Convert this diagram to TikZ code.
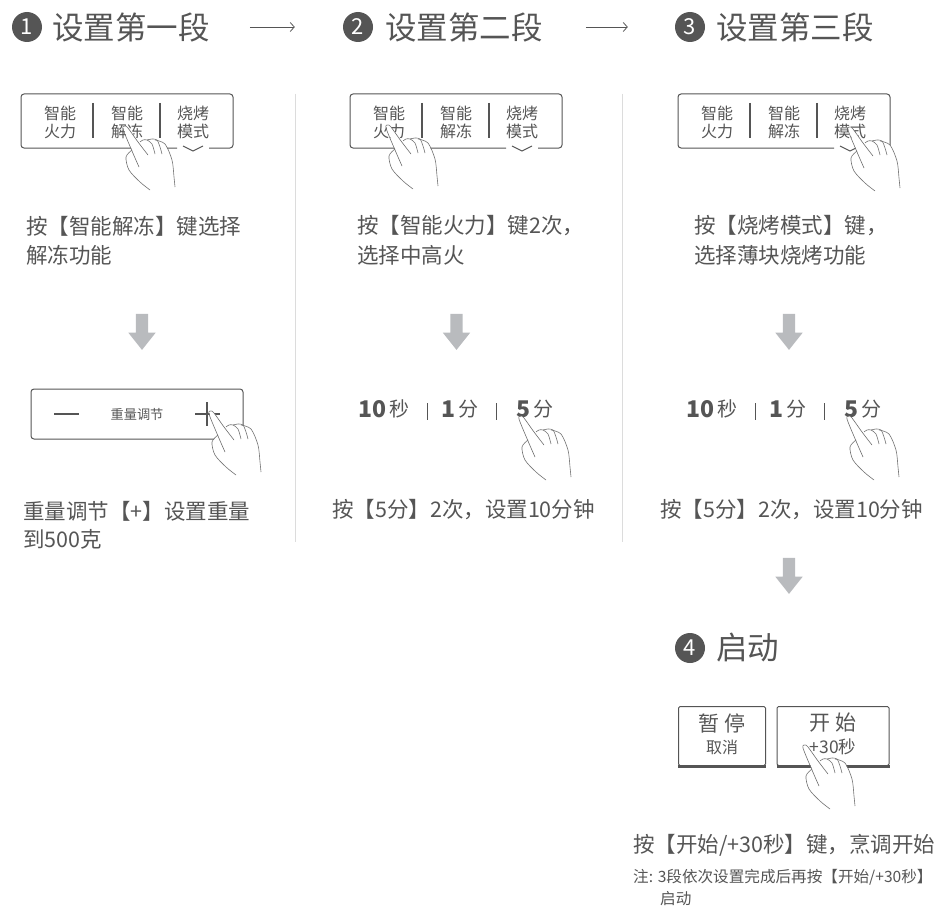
\documentclass[tikz,border=0pt]{standalone}
\usepackage{fontspec}
\setmainfont{Noto Sans CJK SC}
\usepackage{tikz}
\usetikzlibrary{shapes,arrows.meta}
\definecolor{inkgray}{HTML}{555555}
\definecolor{rulegray}{HTML}{DCDCDC}
\definecolor{arrowgray}{HTML}{B9BBBE}
\newcommand{\px}[1] {\fontsize{#1}{#1}\selectfont}
\newcommand{\numnode}[3] {\node at (#1) (#2) [circle, fill=inkgray, text=white, minimum size=30pt, inner sep=0pt, font=\px{22}] {#3};}
\newcommand{\titlenode}[3] {\node at (#1) (#2) [anchor=west, inner sep=0pt, text=inkgray, font=\px{31.5}] {#3};}
\newcommand{\captionnode}[3] {\node at (#1) (#2) [anchor=west, inner sep=0pt, text=inkgray, font=\px{21.5}] {#3};}
\newcommand{\notenode}[3] {\node at (#1) (#2) [anchor=west, inner sep=0pt, text=inkgray, font=\px{15.6}] {#3};}
\newcommand{\keynode}[3] {\node at (#1) (#2) [align=center, inner sep=0pt, text=inkgray, font=\px{16}] {#3};}
\newcommand{\timenode}[3] {\node at (#1) (#2) [anchor=west, inner sep=0pt, text=inkgray, font=\px{20}] {#3};}
\newcommand{\downarrownode}[2] {\node at (#1) (#2) [single arrow, fill=arrowgray, shape border rotate=270, minimum height=36pt, single arrow head extend=7.5pt, single arrow tip angle=77, inner sep=6pt] {};}
\newcommand{\stepbutton}[3] {\node at (#1) (#2) [rectangle, draw=inkgray, line width=1pt, rounded corners=1.5pt, minimum height=59pt, minimum width=#3] {};
  \draw [inkgray, line width=3pt] (#2.south west) -- (#2.south east);}
% hand, fingertip at #1
\newcommand{\pointhand}[1] {
  \begin{scope}[shift={(#1)}, gray!90!black, line width=0.6pt]
    \fill [white] (0,0) -- (9,23) -- (3,30) -- (6,43) -- (17,55) -- (27,63) -- (52,60) -- (51,50) -- (49,33) -- (42,17) -- (32,13) -- (24,13) -- (17,15) -- (3,-1) -- cycle;
    \draw [inkgray!85] plot [smooth] coordinates {(16,40) (9,24) (0,2) (2,-1) (5,1) (15,15) (25,28)};
    \draw plot [smooth] coordinates {(17,15) (20,13) (24,13) (29,17) (32,27)};
    \draw plot [smooth] coordinates {(24,13) (29,12) (34,13) (37,20) (39,27)};
    \draw plot [smooth] coordinates {(32,13) (42,17) (49,33) (51,50) (52,60)};
    \draw plot [smooth] coordinates {(9,23) (3,30) (6,43) (17,55) (27,63)};
  \end{scope}}
\newcommand{\keypanel}[2] {
  \begin{scope}[shift={(#1,0)}]
    \draw [inkgray, line width=1pt, rounded corners=3pt] (177,148) -- (21,148) -- (21,94) -- (233,94) -- (233,148) -- (209,148);
    \draw [inkgray, line width=1pt] (183,146) -- (193,151) -- (203,146);
    \draw [inkgray, line width=1.2pt] (93,103) -- (93,138);
    \draw [inkgray, line width=1.2pt] (160,103) -- (160,138);
    \keynode {60,122} {#2a} {智能\\[2pt]火力}
    \keynode {127,122} {#2b} {智能\\[2pt]解冻}
    \keynode {193,122} {#2c} {烧烤\\[2pt]模式}
  \end{scope}}
\newcommand{\timerow}[2] {
  \begin{scope}[shift={(#1,0)}]
    \timenode {358,409} {#2a} {\px{23}\textbf{10}}
    \timenode {389,409} {#2b} {秒}
    \timenode {441,409} {#2c} {\px{23}\textbf{1}}
    \timenode {458,409} {#2d} {分}
    \timenode {516,409} {#2e} {\px{23}\textbf{5}}
    \timenode {533,409} {#2f} {分}
    \draw [inkgray, line width=0.8pt] (427,403) -- (427,420);
    \draw [inkgray, line width=0.8pt] (496,403) -- (496,420);
  \end{scope}}
\begin{document}
\begin{tikzpicture}[x=1pt, y=-1pt]
\useasboundingbox (0,0) rectangle (938,907);

\numnode {27,27} {n1} {1}
\titlenode {52,27} {t1} {设置第一段}
\numnode {358,27} {n2} {2}
\titlenode {385,27} {t2} {设置第二段}
\numnode {690,27} {n3} {3}
\titlenode {716,27} {t3} {设置第三段}
\numnode {690,648} {n4} {4}
\titlenode {716,648} {t4} {启动}

\draw [inkgray, line width=0.8pt, shorten <=40pt, shorten >=48pt, -{Straight Barb[length=4pt, width=9pt]}] (t1.east) -- (n2.west);
\draw [inkgray, line width=0.8pt, shorten <=43pt, shorten >=47pt, -{Straight Barb[length=4pt, width=9pt]}] (t2.east) -- (n3.west);

\coordinate (r1a) at (295,94);
\coordinate (r1b) at (295,542);
\coordinate (r2a) at (622,94);
\coordinate (r2b) at (622,542);
\draw [rulegray, line width=1pt] (r1a) -- (r1b);
\draw [rulegray, line width=1pt] (r2a) -- (r2b);

\keypanel {0} {p}
\keypanel {329} {q}
\keypanel {657} {r}
\pointhand {123,127}
\pointhand {386,126}
\pointhand {848,128}

\captionnode {26,226} {c1} {按【智能解冻】键选择}
\captionnode {26,255} {c2} {解冻功能}
\captionnode {357,226} {c3} {按【智能火力】键2次，}
\captionnode {357,255} {c4} {选择中高火}
\captionnode {694,226} {c5} {按【烧烤模式】键，}
\captionnode {694,255} {c6} {选择薄块烧烤功能}

\downarrownode {142,328} {d1}
\downarrownode {456.5,328} {d2}
\downarrownode {789,328} {d3}
\downarrownode {789,572} {d4}

% weight box
\node at (137,414) (w) [rectangle, draw=inkgray, line width=1pt, rounded corners=3pt, minimum width=212pt, minimum height=50pt, text=inkgray, font=\px{13.2}] {重量调节};
\coordinate (wm1) at (54,414);
\coordinate (wm2) at (79,414);
\coordinate (wp1) at (195,414);
\coordinate (wp2) at (220,414);
\coordinate (wp3) at (207,402);
\coordinate (wp4) at (207,426);
\draw [inkgray, line width=1.8pt] (wm1) -- (wm2);
\draw [inkgray, line width=1.8pt] (wp1) -- (wp2);
\draw [inkgray, line width=1.8pt] (wp3) -- (wp4);
\pointhand {209,412}

\timerow {0} {u}
\timerow {328} {v}
\pointhand {519,417}
\pointhand {847,417}

\captionnode {23,511} {c7} {重量调节【+】设置重量}
\captionnode {23,539} {c8} {到500克}
\captionnode {332,510} {c9} {按【5分】2次，设置10分钟}
\captionnode {660,510} {c10} {按【5分】2次，设置10分钟}

\stepbutton {722,736} {b1} {87pt}
\stepbutton {833,736} {b2} {112pt}
\node at (722,723) (b1a) [inner sep=0pt, text=inkgray, font=\px{21}] {暂 停};
\node at (722,747) (b1b) [inner sep=0pt, text=inkgray, font=\px{16}] {取消};
\node at (833,723) (b2a) [inner sep=0pt, text=inkgray, font=\px{21}] {开 始};
\node at (833,747) (b2b) [inner sep=0pt, text=inkgray, font=\px{17.5}] {+30秒};
\pointhand {803,746}

\captionnode {633,845} {c11} {按【开始/+30秒】键，烹调开始}
\notenode {633,877} {c12} {注: 3段依次设置完成后再按【开始/+30秒】}
\notenode {660,899} {c13} {启动}
\end{tikzpicture}
\end{document}
